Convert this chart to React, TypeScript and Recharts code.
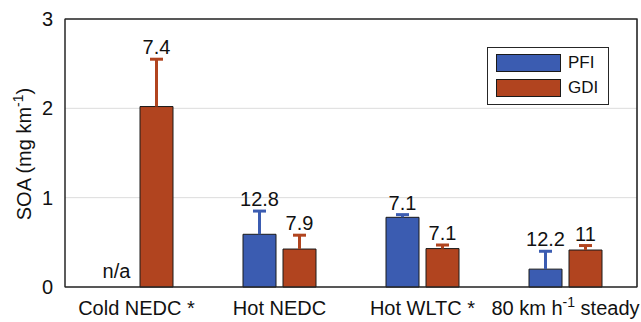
import React from "react";
import {
  BarChart,
  Bar,
  XAxis,
  YAxis,
  CartesianGrid,
  LabelList,
  Legend,
} from "recharts";

const categories = ["Cold NEDC *", "Hot NEDC", "Hot WLTC *", "80 km h^-1 steady"];
const pfiValues = [0, 0.59, 0.78, 0.2];
const pfiErrors = [0, 0.26, 0.03, 0.2];
const gdiValues = [2.02, 0.425, 0.43, 0.414];
const gdiErrors = [0.53, 0.155, 0.04, 0.05];
const pfiLabels = ["n/a", "12.8", "7.1", "12.2"];
const gdiLabels = ["7.4", "7.9", "7.1", "11"];
const yTicks = [0, 1, 2, 3];
const seriesNames = ["PFI", "GDI"];

const BLUE = "#3b5cb1";
const RED = "#b1441f";
const INK = "#262626";
const FONT = "'Liberation Sans', Arial, sans-serif";

const W = 641;
const H = 322;
const MARGIN = { top: 19, right: 4, bottom: 0, left: 0 };
const Y_AXIS_W = 65;
const X_AXIS_H = 35;

const data = categories.map((cat, i) => ({
  cat,
  pfi: pfiValues[i],
  pfiErr: pfiErrors[i],
  gdi: gdiValues[i],
  gdiErr: gdiErrors[i],
  pfiLabel: pfiLabels[i],
  gdiLabel: gdiLabels[i],
}));

// error bar drawn into the stacked segment above each bar (stem + cap at top)
const ErrShape = (props: any) => {
  const { x, y, width, height, fill } = props;
  if (!height || height <= 0) return <g />;
  const cx = x + width / 2;
  return (
    <g>
      <line x1={cx} x2={cx} y1={y} y2={y + height} stroke={fill} strokeWidth={3} />
      <line x1={cx - 6.5} x2={cx + 6.5} y1={y} y2={y} stroke={fill} strokeWidth={3} />
    </g>
  );
};

const renderValueLabel = (props: any) => {
  const vb = props.viewBox || props;
  const x = vb.x ?? props.x;
  const y = vb.y ?? props.y;
  const width = vb.width ?? props.width;
  const v = props.value;
  const na = v === "n/a";
  return (
    <text
      x={x + width / 2}
      y={y - (na ? 9 : 5)}
      textAnchor="middle"
      fontSize={20}
      fontFamily={FONT}
      fill="#111"
    >
      {v}
    </text>
  );
};

const XTick = (props: any) => {
  const { x, y, payload } = props;
  const parts = String(payload.value).split("^-1");
  return (
    <text x={x} y={y + 14} textAnchor="middle" fontSize={20} fontFamily={FONT} fill="#111">
      {parts[0]}
      {parts.length > 1 && (
        <>
          <tspan dy={-8} fontSize={14}>-1</tspan>
          <tspan dy={8}>{parts[1]}</tspan>
        </>
      )}
    </text>
  );
};

const renderYLabel = () => (
  <text
    transform="rotate(-90)"
    x={-154}
    y={31}
    textAnchor="middle"
    fontSize={20}
    fontFamily={FONT}
    fill="#111"
  >
    SOA (mg km
    <tspan dy={-8} fontSize={14}>-1</tspan>
    <tspan dy={8}>)</tspan>
  </text>
);

const renderLegend = () => (
  <div
    style={{
      width: 122,
      height: 58,
      boxSizing: "border-box",
      border: `1px solid ${INK}`,
      background: "#fff",
      position: "relative",
      fontFamily: FONT,
      fontSize: 17,
      color: "#111",
    }}
  >
    {seriesNames.map((name, i) => (
      <div
        key={name}
        style={{ position: "absolute", left: 8, top: 6 + i * 25, display: "flex", alignItems: "center" }}
      >
        <div
          style={{
            width: 65,
            height: 18,
            boxSizing: "border-box",
            border: "1px solid #1a1a1a",
            background: i === 0 ? BLUE : RED,
          }}
        />
        <span style={{ marginLeft: 7, lineHeight: "18px" }}>{name}</span>
      </div>
    ))}
  </div>
);

// plot box from the chart's own margins and axis sizes
const boxX = MARGIN.left + Y_AXIS_W;
const boxY = MARGIN.top;
const boxW = W - MARGIN.right - boxX;
const boxH = H - MARGIN.bottom - X_AXIS_H - boxY;

export default function App() {
  return (
    <div style={{ position: "absolute", left: 0, top: 0, width: W, height: H, background: "#fff" }}>
      <BarChart width={W} height={H} data={data} margin={MARGIN} barSize={33} barGap={7}>
        <CartesianGrid vertical={false} stroke="#dcdcdc" />
        <XAxis
          dataKey="cat"
          interval={0}
          height={X_AXIS_H}
          tickSize={0}
          tickMargin={14}
          tickLine={false}
          tick={<XTick />}
          stroke={INK}
        />
        <YAxis
          domain={[0, 3]}
          ticks={yTicks}
          interval={0}
          width={Y_AXIS_W}
          tickSize={0}
          tickMargin={12}
          tickLine={false}
          tick={{ fill: "#111", fontSize: 20, fontFamily: FONT }}
          stroke={INK}
          label={{ content: renderYLabel }}
        />
        <Legend
          layout="vertical"
          align="center"
          verticalAlign="middle"
          content={renderLegend}
          wrapperStyle={{ left: 487, top: 47, width: 122 }}
        />
        <Bar dataKey="pfi" stackId="p" fill={BLUE} stroke="#1a1a1a" strokeWidth={1} isAnimationActive={false} />
        <Bar dataKey="pfiErr" stackId="p" fill={BLUE} shape={<ErrShape />} isAnimationActive={false}>
          <LabelList dataKey="pfiLabel" position="top" content={renderValueLabel} />
        </Bar>
        <Bar dataKey="gdi" stackId="g" fill={RED} stroke="#1a1a1a" strokeWidth={1} isAnimationActive={false} />
        <Bar dataKey="gdiErr" stackId="g" fill={RED} shape={<ErrShape />} isAnimationActive={false}>
          <LabelList dataKey="gdiLabel" position="top" content={renderValueLabel} />
        </Bar>
        <rect x={boxX} y={boxY} width={boxW} height={boxH} fill="none" stroke={INK} strokeWidth={1} />
      </BarChart>
      {/* box frame around the plot area, drawn above the chart */}
      <svg
        width={W}
        height={H}
        style={{ position: "absolute", left: 0, top: 0, zIndex: 10, pointerEvents: "none" }}
      >
        <path
          d={`M${boxX} ${boxY} H${boxX + boxW} V${boxY + boxH}`}
          fill="none"
          stroke={INK}
          strokeWidth={1.2}
        />
      </svg>
    </div>
  );
}
